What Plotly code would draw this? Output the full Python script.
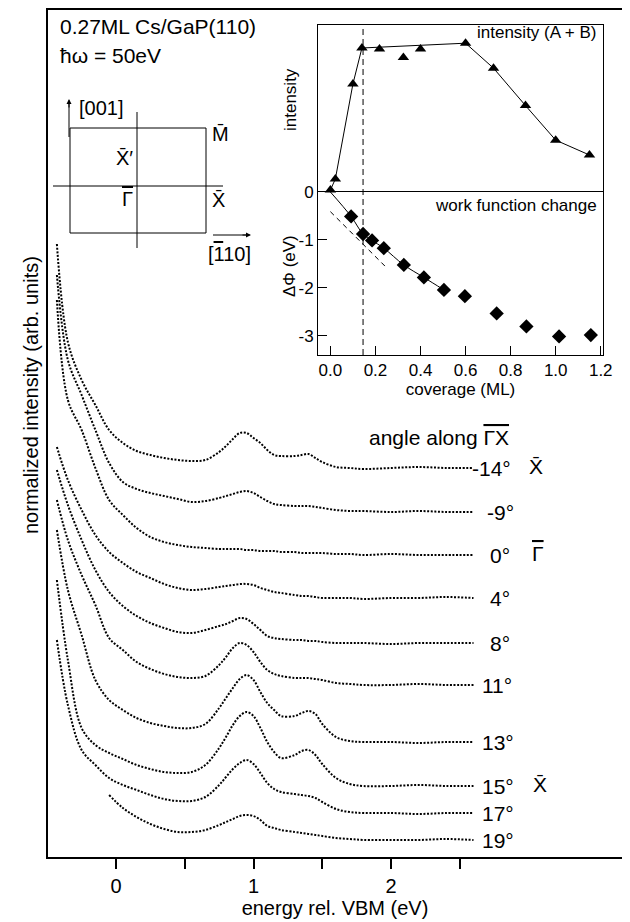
import plotly.graph_objects as go

# ---------------- data ----------------
energy = [-0.43, -0.35, -0.25, -0.15, -0.05, 0.05, 0.15, 0.25, 0.35, 0.45, 0.55, 0.65,
          0.75, 0.8, 0.85, 0.9, 0.95, 1.0, 1.05, 1.1, 1.15, 1.2, 1.3, 1.35, 1.4, 1.45,
          1.5, 1.6, 1.7, 1.8, 2.0, 2.2, 2.4, 2.6]

angle_labels = ["-14°", "-9°", "0°", "4°", "8°", "11°", "13°", "15°", "17°", "19°"]

spec_m14 = [656, 558, 520, 495, 470, 457, 449, 445, 442, 440, 439, 440, 448, 454, 461, 467, 467,
            462, 457, 450, 445, 444, 444, 445, 446, 442, 438, 433, 432, 431, 432, 433, 432, 432]
spec_m9 = [625, 540, 505, 470, 437, 418, 411, 407, 404, 401, 398, 399, 402, 404, 406, 408, 409,
           407, 403, 399, 396, 395, 394, 394, 394, 393, 392, 390, 389, 389, 388, 389, 388, 388]
spec_0 = [600, 500, 470, 432, 400, 385, 372, 363, 358, 355, 353, 352, 351, 351, 351, 351, 350,
          350, 349, 349, 349, 348, 348, 347, 347, 347, 347, 346, 346, 345, 346, 345, 345, 345]
spec_4 = [453, 420, 390, 365, 348, 337, 328, 322, 316, 312, 310, 311, 313, 314, 315, 316, 316,
          315, 312, 310, 308, 307, 305, 304, 304, 303, 302, 302, 302, 301, 302, 302, 303, 302]
spec_8 = [430, 395, 360, 330, 308, 294, 284, 277, 272, 268, 267, 270, 274, 276, 279, 282, 281,
          276, 270, 264, 262, 261, 260, 260, 259, 259, 258, 257, 257, 257, 256, 257, 257, 257]
spec_11 = [400, 360, 325, 295, 262, 250, 238, 231, 226, 223, 222, 224, 235, 243, 252, 257, 255,
           248, 238, 230, 226, 224, 222, 222, 222, 221, 220, 217, 216, 215, 215, 216, 215, 215]
spec_13 = [370, 310, 265, 220, 200, 190, 182, 177, 174, 172, 172, 176, 192, 202, 212, 221, 225,
           220, 208, 197, 190, 184, 184, 187, 189, 186, 176, 163, 159, 158, 158, 157, 158, 158]
spec_15 = [320, 240, 172, 155, 147, 141, 135, 131, 128, 127, 128, 135, 152, 163, 175, 184, 188,
           184, 172, 158, 148, 142, 145, 149, 150, 145, 136, 122, 116, 114, 114, 115, 114, 114]
spec_17 = [260, 195, 150, 135, 122, 115, 110, 105, 101, 99, 99, 103, 115, 123, 131, 137, 140,
           136, 127, 117, 111, 108, 106, 105, 104, 102, 98, 91, 88, 87, 87, 86, 87, 87]
spec_19 = [None, None, None, None, 105, 92, 83, 76, 71, 68, 68, 70, 75, 78, 81, 84, 85,
           84, 80, 74, 72, 70, 68, 67, 66, 65, 64, 62, 61, 60, 60, 60, 61, 60]
spectra = [spec_m14, spec_m9, spec_0, spec_4, spec_8, spec_11, spec_13, spec_15, spec_17, spec_19]

# inset: intensity (A+B) vs coverage
tri_cov = [0.0, 0.022, 0.10, 0.14, 0.218, 0.324, 0.40, 0.60, 0.724, 0.866, 1.0, 1.15]
tri_int = [0.04, 0.27, 2.25, 3.0, 2.98, 2.8, 2.98, 3.1, 2.58, 1.8, 1.08, 0.77]
tri_line_idx = [0, 1, 2, 3, 7, 8, 9, 10, 11]

# inset: work function change vs coverage
dia_cov = [0.092, 0.145, 0.185, 0.237, 0.326, 0.415, 0.504, 0.597, 0.738, 0.87, 1.015, 1.156]
dia_dphi = [-0.51, -0.875, -1.01, -1.17, -1.52, -1.78, -2.04, -2.17, -2.53, -2.80, -3.01, -2.98]
wf_line_cov = [0.0, 0.092, 0.145, 0.185, 0.237, 0.326, 0.415, 0.504]
wf_line_dphi = [0.0, -0.51, -0.875, -1.01, -1.17, -1.52, -1.78, -2.04]
tangent_cov = [0.0, 0.252]
tangent_dphi = [-0.41, -1.59]
critical_cov = 0.145

# ---------------- geometry helpers (page pixels -> paper) ----------------
OFF = 8                      # default page margin of the html body
W, H = 630 - OFF, 922 - OFF
L, R, T, B = 40, 8, 2, 65
PW, PH = W - L - R, H - T - B


def pxx(x):
    return (x - OFF - L) / PW


def pyy(y):
    return (H - B - (y - OFF)) / PH


FONT = "Liberation Sans, Arial, sans-serif"
fig = go.Figure()

for s in spectra:
    fig.add_trace(go.Scatter(x=energy, y=s, mode="lines", line_shape="spline",
                             line=dict(color="black", width=2, dash="2px,1.6px"),
                             hoverinfo="skip", showlegend=False))

# inset traces
fig.add_trace(go.Scatter(x=[tri_cov[i] for i in tri_line_idx], y=[tri_int[i] for i in tri_line_idx],
                         mode="lines", line=dict(color="black", width=1), xaxis="x2", yaxis="y2",
                         showlegend=False))
fig.add_trace(go.Scatter(x=tri_cov, y=tri_int, mode="markers", xaxis="x2", yaxis="y2",
                         marker=dict(symbol="triangle-up", size=10, color="black"), showlegend=False))
fig.add_trace(go.Scatter(x=wf_line_cov, y=wf_line_dphi, mode="lines", line_shape="spline",
                         line=dict(color="black", width=1), xaxis="x2", yaxis="y2", showlegend=False))
fig.add_trace(go.Scatter(x=tangent_cov, y=tangent_dphi, mode="lines",
                         line=dict(color="black", width=1, dash="5px,4px"), xaxis="x2", yaxis="y2",
                         showlegend=False))
fig.add_trace(go.Scatter(x=dia_cov, y=dia_dphi, mode="markers", xaxis="x2", yaxis="y2",
                         marker=dict(symbol="diamond", size=11, color="black"), showlegend=False))

fig.add_shape(type="line", xref="x2", yref="y2 domain", x0=critical_cov, x1=critical_cov, y0=0, y1=1,
              line=dict(color="black", width=1, dash="6px,4px"))

OVL = "<span style='text-decoration:overline'>{}</span>"
ann = []
# spectrum labels
label_y = [468, 512, 555, 598, 643, 685, 742, 786, 813, 840]
label_x = [470, 485, 488, 488, 488, 480, 480, 480, 480, 480]
for lab, lx, ly in zip(angle_labels, label_x, label_y):
    ann.append(dict(x=pxx(lx), y=pyy(ly), xref="paper", yref="paper", text=lab, showarrow=False,
                    xanchor="left", yanchor="middle", font=dict(size=21)))
for txt, lx, ly in [("X\u0304", 527, 466), (OVL.format("\u0393"), 530, 553), ("X\u0304", 531, 784)]:
    ann.append(dict(x=pxx(lx), y=pyy(ly), xref="paper", yref="paper", text=txt, showarrow=False,
                    xanchor="left", yanchor="middle", font=dict(size=21)))
ann.append(dict(x=pxx(367), y=pyy(437), xref="paper", yref="paper",
                text="angle along " + OVL.format("\u0393X"), showarrow=False, xanchor="left",
                yanchor="middle", font=dict(size=21)))
ann.append(dict(x=pxx(31), y=pyy(395), xref="paper", yref="paper",
                text="normalized intensity (arb. units)", textangle=-90, showarrow=False,
                xanchor="center", yanchor="middle", font=dict(size=20)))
ann.append(dict(x=pxx(58), y=pyy(27), xref="paper", yref="paper", text="0.27ML Cs/GaP(110)",
                showarrow=False, xanchor="left", yanchor="middle", font=dict(size=21)))
ann.append(dict(x=pxx(58), y=pyy(56), xref="paper", yref="paper", text="\u0127\u03c9 = 50eV",
                showarrow=False, xanchor="left", yanchor="middle", font=dict(size=21)))
# BZ labels
for txt, lx, ly in [("[001]", 77, 108), ("X\u0304\u2032", 114, 158), ("M\u0304", 210, 134),
                    (OVL.format("\u0393"), 120, 199), ("X\u0304", 210, 200),
                    ("[" + OVL.format("1") + "10]", 206, 254)]:
    ann.append(dict(x=pxx(lx), y=pyy(ly), xref="paper", yref="paper", text=txt, showarrow=False,
                    xanchor="left", yanchor="middle", font=dict(size=20)))
# inset labels
ann.append(dict(x=pxx(599), y=pyy(33), xref="paper", yref="paper", text="intensity (A + B)",
                showarrow=False, xanchor="right", yanchor="middle", font=dict(size=17)))
ann.append(dict(x=pxx(599), y=pyy(205), xref="paper", yref="paper", text="work function change",
                showarrow=False, xanchor="right", yanchor="middle", font=dict(size=17)))
ann.append(dict(x=pxx(290), y=pyy(100), xref="paper", yref="paper", text="intensity",
                textangle=-90, showarrow=False, xanchor="center", yanchor="middle", font=dict(size=17)))
ann.append(dict(x=pxx(289), y=pyy(266), xref="paper", yref="paper", text="\u0394\u03a6 (eV)",
                textangle=-90, showarrow=False, xanchor="center", yanchor="middle", font=dict(size=17)))

# BZ drawing shapes
shapes_px = [
    ("rect", 70, 128, 206, 233),
    ("line", 137, 112, 137, 248),
    ("line", 53, 186, 223, 186),
    ("line", 69, 137, 69, 104),
    ("line", 213, 235, 246, 235),
]
for kind, x0, y0, x1, y1 in shapes_px:
    fig.add_shape(type=kind, xref="paper", yref="paper", x0=pxx(x0), y0=pyy(y0), x1=pxx(x1), y1=pyy(y1),
                  line=dict(color="black", width=1))
# arrow heads
ann.append(dict(x=pxx(69), y=pyy(99), ax=0, ay=10, xref="paper", yref="paper",
                text="", showarrow=True, arrowhead=2, arrowsize=1,
                arrowwidth=1, arrowcolor="black"))
ann.append(dict(x=pxx(251), y=pyy(235), ax=-10, ay=0, xref="paper", yref="paper",
                text="", showarrow=True, arrowhead=2, arrowsize=1,
                arrowwidth=1, arrowcolor="black"))

fig.update_layout(
    width=W, height=H, margin=dict(l=L, r=R, t=T, b=B),
    paper_bgcolor="white", plot_bgcolor="white",
    font=dict(family=FONT, color="black", size=20),
    annotations=ann, showlegend=False,
    xaxis=dict(range=[(48 - 116) / 137.5, (622 - 116) / 137.5], domain=[0, 1],
               tickvals=[0, 0.5, 1, 1.5, 2, 2.5], ticktext=["0", "", "1", "", "2", ""],
               ticks="outside", ticklen=10, tickwidth=2, tickcolor="black",
               showline=True, mirror=True, linewidth=2, linecolor="black",
               showgrid=False, zeroline=False, tickfont=dict(size=20), automargin=False,
               title=dict(text="energy rel. VBM (eV)", font=dict(size=20), standoff=4)),
    yaxis=dict(range=[900 - 857, 900 - 10], domain=[0, 1], showticklabels=False, ticks="",
               showline=True, mirror=True, linewidth=2, linecolor="black",
               showgrid=False, zeroline=False, automargin=False),
    xaxis2=dict(domain=[pxx(318), pxx(603)], anchor="y2", range=[-0.055, 1.21],
                tickvals=[0, 0.2, 0.4, 0.6, 0.8, 1.0, 1.2],
                ticktext=["0.0", "0.2", "0.4", "0.6", "0.8", "1.0", "1.2"],
                ticks="inside", ticklen=9, tickwidth=1, tickcolor="black",
                showline=True, mirror=True, linewidth=1, linecolor="black",
                showgrid=False, zeroline=False, tickfont=dict(size=17), automargin=False,
                title=dict(text="coverage (ML)", font=dict(size=17), standoff=2)),
    yaxis2=dict(domain=[pyy(355), pyy(25)], anchor="x2", range=[-3.396, 3.479],
                tickvals=[0, -1, -2, -3], ticktext=["0", "-1", "-2", "-3"],
                ticks="inside", ticklen=9, tickwidth=1, tickcolor="black",
                showline=True, mirror=True, linewidth=1, linecolor="black",
                showgrid=False, zeroline=True, zerolinecolor="black", zerolinewidth=1,
                tickfont=dict(size=17), automargin=False),
)

fig.write_html("out.html")
